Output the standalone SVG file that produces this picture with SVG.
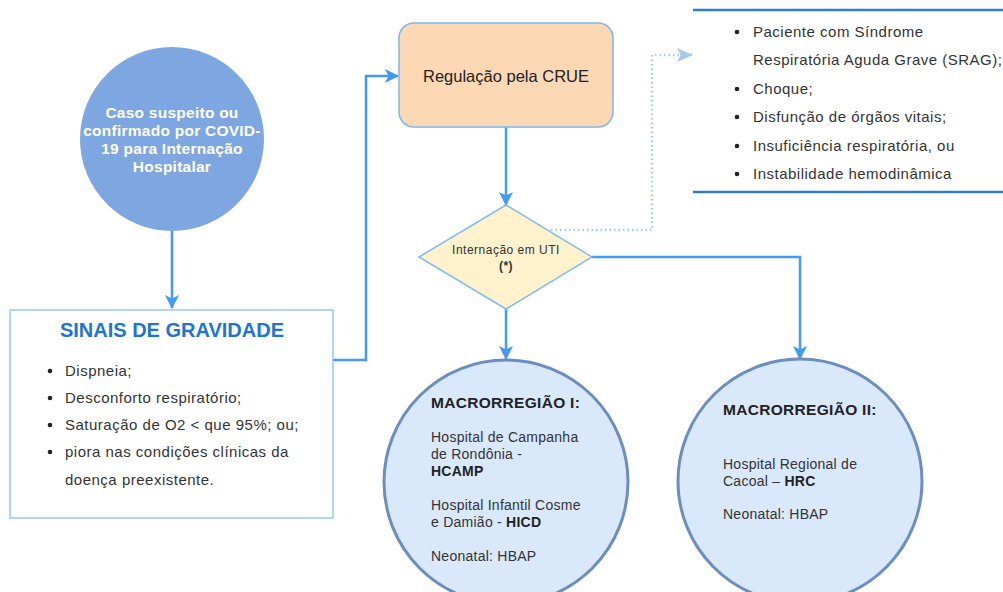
<svg xmlns="http://www.w3.org/2000/svg" width="1003" height="592" viewBox="0 0 1003 592">
<style>
.t{font-family:"Liberation Sans",Arial,sans-serif;fill:#333}
.w{font-family:"Liberation Sans",Arial,sans-serif;fill:#fff;font-weight:bold;font-size:15.5px;letter-spacing:0.25px}
.b{font-weight:bold}
.li{font-size:15px;letter-spacing:0.5px}
.cn{fill:none;stroke:#4499f2;stroke-width:2.5}
.mc{font-size:14px;letter-spacing:0.25px}
</style>
<defs>
<marker id="ah" markerWidth="14" markerHeight="14" refX="13" refY="7" orient="auto" markerUnits="userSpaceOnUse" viewBox="0 0 14 14">
<path d="M0,0 L14,7 L0,14 L3.5,7 Z" fill="#4499f2"/>
</marker>
<marker id="ahl" markerWidth="16" markerHeight="14" refX="15" refY="7" orient="auto" markerUnits="userSpaceOnUse" viewBox="0 0 16 14">
<path d="M0,0 L16,7 L0,14 L3.5,7 Z" fill="#a9c9ee"/>
</marker>
</defs>
<rect width="1003" height="592" fill="#fff"/>
<g id="connectors">
<path class="cn" d="M172,231 V308" marker-end="url(#ah)"/>
<path class="cn" d="M333,360 H366 V76 H398" marker-end="url(#ah)"/>
<path class="cn" d="M506,127 V205" marker-end="url(#ah)"/>
<path class="cn" d="M592,257 H800 V359" marker-end="url(#ah)"/>
<path class="cn" d="M506,309 V359" marker-end="url(#ah)"/>
<path d="M551,230 H652 V55 H692" fill="none" stroke="#a9c9ee" stroke-width="2.5" stroke-dasharray="1.5,3" marker-end="url(#ahl)"/>
</g>
<g id="caso">
<circle cx="172" cy="139" r="92" fill="#7ea6e0"/>
<text class="w" text-anchor="middle"><tspan x="172" y="118">Caso suspeito ou</tspan><tspan x="172" y="136">confirmado por COVID-</tspan><tspan x="172" y="154">19 para Internação</tspan><tspan x="172" y="172">Hospitalar</tspan></text>
</g>
<g id="sinais">
<rect x="10" y="310" width="323" height="208" fill="#fff" stroke="#99c6f5" stroke-width="1.5"/>
<text class="t b" x="172" y="337" text-anchor="middle" font-size="20" style="fill:#1f74d1">SINAIS DE GRAVIDADE</text>
<g fill="#222"><circle cx="50" cy="371" r="2.3"/><circle cx="50" cy="398" r="2.3"/><circle cx="50" cy="425" r="2.3"/><circle cx="50" cy="452" r="2.3"/></g>
<text class="t li"><tspan x="65" y="376">Dispneia;</tspan><tspan x="65" y="403">Desconforto respiratório;</tspan><tspan x="65" y="430">Saturação de O2 &lt; que 95%; ou;</tspan><tspan x="65" y="457">piora nas condições clínicas da</tspan><tspan x="65" y="485">doença preexistente.</tspan></text>
</g>
<g id="crue">
<rect x="399" y="23" width="214" height="104" rx="15" fill="#fcd8b4" stroke="#7fb6ec" stroke-width="1.5"/>
<text class="t" x="506" y="82" text-anchor="middle" font-size="16.5" style="fill:#222">Regulação pela CRUE</text>
</g>
<g id="uti">
<path d="M506,205 L592,257 L506,309 L419,257 Z" fill="#fff2cc" stroke="#85bbee" stroke-width="1.5"/>
<text class="t" text-anchor="middle" font-size="12" letter-spacing="0.5"><tspan x="506" y="254">Internação em UTI</tspan><tspan x="506" y="270" font-weight="bold">(*)</tspan></text>
</g>
<g id="criterios">
<line x1="693" y1="10" x2="1003" y2="10" stroke="#2f7bd3" stroke-width="2.5"/>
<line x1="693" y1="192" x2="1003" y2="192" stroke="#2f7bd3" stroke-width="2.5"/>
<g fill="#222"><circle cx="737" cy="32" r="2.3"/><circle cx="737" cy="89" r="2.3"/><circle cx="737" cy="117" r="2.3"/><circle cx="737" cy="146" r="2.3"/><circle cx="737" cy="174" r="2.3"/></g>
<text class="t li"><tspan x="753" y="37">Paciente com Síndrome</tspan><tspan x="753" y="65">Respiratória Aguda Grave (SRAG);</tspan><tspan x="753" y="94">Choque;</tspan><tspan x="753" y="122">Disfunção de órgãos vitais;</tspan><tspan x="753" y="151">Insuficiência respiratória, ou</tspan><tspan x="753" y="179">Instabilidade hemodinâmica</tspan></text>
</g>
<g id="macro1">
<circle cx="506" cy="482" r="122" fill="#dae8fc" stroke="#6c8ebf" stroke-width="3"/>
<text class="t b" x="431" y="408" font-size="15.5" letter-spacing="0.3" style="fill:#222">MACRORREGIÃO I:</text>
<text class="t mc"><tspan x="431" y="442">Hospital de Campanha</tspan><tspan x="431" y="459">de Rondônia -</tspan><tspan x="431" y="476" class="b" style="fill:#222">HCAMP</tspan><tspan x="431" y="510">Hospital Infantil Cosme</tspan><tspan x="431" y="527">e Damião - <tspan class="b" style="fill:#222">HICD</tspan></tspan><tspan x="431" y="561">Neonatal: HBAP</tspan></text>
</g>
<g id="macro2">
<circle cx="800" cy="481" r="122" fill="#dae8fc" stroke="#6c8ebf" stroke-width="3"/>
<text class="t b" x="723" y="415" font-size="15.5" letter-spacing="0.3" style="fill:#222">MACRORREGIÃO II:</text>
<text class="t mc"><tspan x="723" y="469">Hospital Regional de</tspan><tspan x="723" y="486">Cacoal – <tspan class="b" style="fill:#222">HRC</tspan></tspan><tspan x="723" y="519">Neonatal: HBAP</tspan></text>
</g>
</svg>
